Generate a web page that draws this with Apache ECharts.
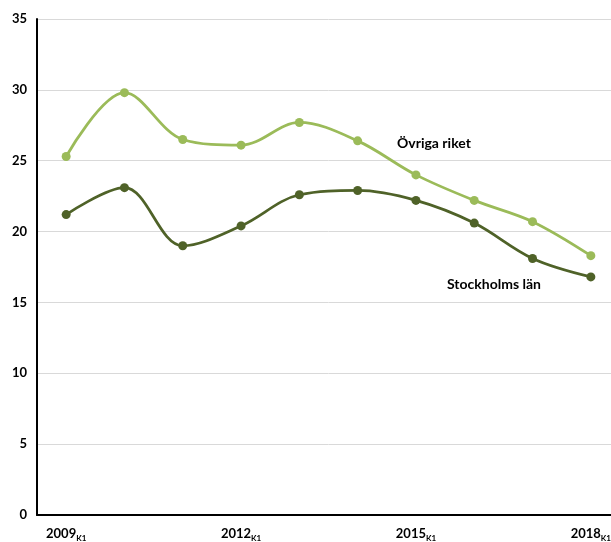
<!DOCTYPE html>
<html><head><meta charset="utf-8">
<script src="https://cdn.jsdelivr.net/npm/echarts@6/dist/echarts.min.js"></script>
<style>html,body{margin:0;padding:0;background:#fff;overflow:hidden;width:611px;height:542px}#c{width:620px;height:542px}</style>
</head><body><div id="c"></div>
<script>
const categories = ["2009","2010","2011","2012","2013","2014","2015","2016","2017","2018"];
const quarterTag = "K1";
const ovrigaRiket = [25.3, 29.8, 26.5, 26.1, 27.7, 26.4, 24.0, 22.2, 20.7, 18.3];
const stockholmsLan = [21.2, 23.1, 19.0, 20.4, 22.6, 22.9, 22.2, 20.6, 18.1, 16.8];
const yTicks = {min: 0, max: 35, interval: 5};

const chart = echarts.init(document.getElementById('c'));
const font = 'Lato, "Open Sans", sans-serif';
chart.setOption({
  animation: false,
  grid: {left: 37, top: 19, right: 0, bottom: 26, containLabel: false},
  xAxis: {
    type: 'category', data: categories, boundaryGap: true,
    axisLine: {lineStyle: {color: '#000', width: 2}},
    axisTick: {show: false},
    axisLabel: {
      interval: 2, margin: 11,
      formatter: v => '{a|' + v + '}{b|' + quarterTag + '}',
      rich: {
        a: {fontFamily: font, fontWeight: 'bold', fontSize: 13, color: '#000'},
        b: {fontFamily: font, fontWeight: 'bold', fontSize: 8, color: '#000', padding: [8, 0, 0, 0]}
      }
    },
    splitLine: {show: false}
  },
  yAxis: {
    type: 'value', min: yTicks.min, max: yTicks.max, interval: yTicks.interval,
    axisLine: {show: true, lineStyle: {color: '#000', width: 2}},
    axisTick: {show: false},
    axisLabel: {margin: 10, fontFamily: font, fontWeight: 'bold', fontSize: 13, color: '#000'},
    splitLine: {lineStyle: {color: '#d9d9d9', width: 1}}
  },
  series: [
    {name: 'Övriga riket', type: 'line', data: ovrigaRiket, smooth: 0.35,
     symbol: 'circle', symbolSize: 9,
     lineStyle: {color: '#9BBB59', width: 2.75}, itemStyle: {color: '#9BBB59'}},
    {name: 'Stockholms län', type: 'line', data: stockholmsLan, smooth: 0.35,
     symbol: 'circle', symbolSize: 9,
     lineStyle: {color: '#4F6228', width: 2.75}, itemStyle: {color: '#4F6228'}}
  ],
  graphic: [
    {type: 'text', left: 397, top: 136, style: {text: 'Övriga riket', font: 'bold 14px ' + font, fill: '#000'}},
    {type: 'text', left: 447, top: 277, style: {text: 'Stockholms län', font: 'bold 14px ' + font, fill: '#000'}}
  ]
});
</script></body></html>
